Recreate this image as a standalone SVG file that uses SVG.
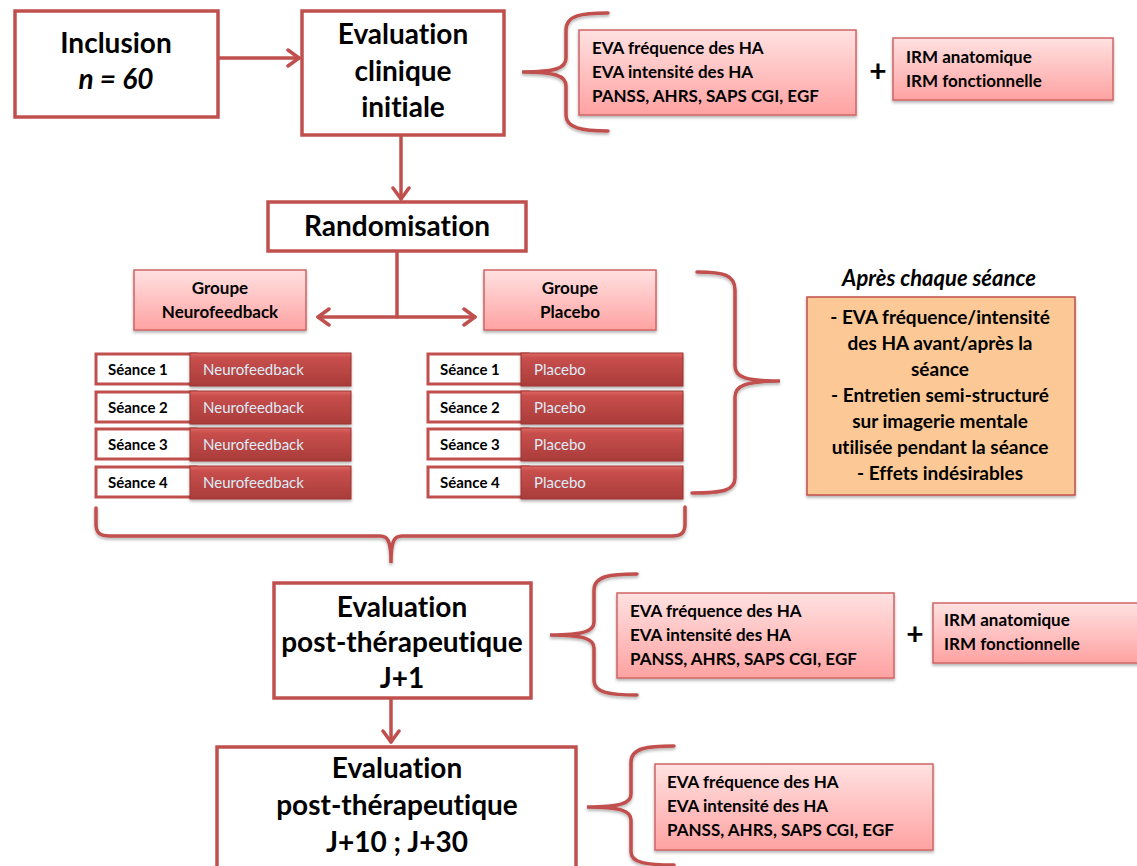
<svg xmlns="http://www.w3.org/2000/svg" width="1137" height="866" viewBox="0 0 1137 866">
<style>
text{font-variant-ligatures:none;font-feature-settings:"liga" 0}
.main{fill:#fff;stroke:#c0504d;stroke-width:3.5}
.pink{fill:url(#gPink);stroke:#d06464;stroke-width:1.5;filter:url(#sh)}
.orange{fill:#fcc895;stroke:#c0504d;stroke-width:1.5;filter:url(#sh)}
.sw{fill:#fff;stroke:#c0504d;stroke-width:3}
.sr{fill:url(#gRed);stroke:#9c3432;stroke-width:1;filter:url(#sh)}
.t{font-family:Lato,"Liberation Sans",sans-serif;font-weight:bold;fill:#000}
.big{font-size:28px;text-anchor:middle}
.mid{font-size:17px;text-anchor:middle}
.sm{font-size:17px}
.ses{font-size:15px}
.lab{font-family:Lato,"Liberation Sans",sans-serif;font-size:15px;fill:#dcecf8}
.line{fill:none;stroke:#c0504d;stroke-width:3.5;stroke-linecap:round;stroke-linejoin:round}
.brace{fill:none;stroke:#c0504d;stroke-width:3.5;stroke-linecap:round;filter:url(#sh)}
</style>
<defs>
<linearGradient id="gPink" x1="0" y1="0" x2="0" y2="1"><stop offset="0" stop-color="#ffe1e1"/><stop offset="1" stop-color="#ffa2a2"/></linearGradient>
<linearGradient id="gRed" x1="0" y1="0" x2="0" y2="1"><stop offset="0" stop-color="#e06966"/><stop offset="0.15" stop-color="#c84f4c"/><stop offset="1" stop-color="#a93c3a"/></linearGradient>
<filter id="sh" x="-10%" y="-10%" width="120%" height="130%"><feDropShadow dx="0" dy="2" stdDeviation="1.5" flood-color="#000" flood-opacity="0.3"/></filter>
<marker id="ah" markerUnits="userSpaceOnUse" viewBox="-14 -11 16 22" refX="0" refY="0" markerWidth="16" markerHeight="22" orient="auto-start-reverse">
<path d="M-11,-8 L0,0 L-11,8" fill="none" stroke="#c0504d" stroke-width="3.5" stroke-linecap="round" stroke-linejoin="round"/>
</marker>
</defs>

<g id="connectors">
<line class="line" x1="218" y1="58" x2="299" y2="58" marker-end="url(#ah)"/>
<line class="line" x1="401" y1="135" x2="401" y2="199" marker-end="url(#ah)"/>
<line class="line" x1="397" y1="251" x2="397" y2="317"/>
<line class="line" x1="318" y1="317" x2="475" y2="317" marker-start="url(#ah)" marker-end="url(#ah)"/>
<line class="line" x1="391" y1="698" x2="391" y2="742" marker-end="url(#ah)"/>
<path class="brace" d="M608 13 C582 13 566 15 566 30 L566 58 C566 68 556 72 522 72 C556 72 566 76 566 86 L566 115 C566 128 582 131 608 131"/>
<path class="brace" d="M697 272 C724 272 735 275 735 290 L735 366 C735 377 745 381 780 381 C745 381 735 386 735 397 L735 478 C735 490 724 493 692 493"/>
<path class="brace" d="M96 508 L96 524 C96 533 100 536 110 536 L380 536 C388 536 391 541 391 563 C391 541 394 536 402 536 L672 536 C681 536 685 533 685 524 L685 507"/>
<path class="brace" d="M637 574 C610 574 594 576 594 590 L594 622 C594 631 584 635 550 635 C584 635 594 639 594 648 L594 680 C594 693 610 695 637 695"/>
<path class="brace" d="M674 746 C647 746 631 748 631 762 L631 794 C631 803 621 807 587 807 C621 807 631 811 631 820 L631 852 C631 863 647 865 674 865"/>
</g>

<g id="inclusion">
<rect class="main" x="15" y="11" width="203" height="106"/>
<text class="t big" x="116" y="53">Inclusion</text>
<text class="t big" x="116" y="89" font-style="italic">n = 60</text>
</g>

<g id="eval-initiale">
<rect class="main" x="302" y="11" width="202" height="124"/>
<text class="t big" x="403" y="44">Evaluation</text>
<text class="t big" x="403" y="81">clinique</text>
<text class="t big" x="403" y="117">initiale</text>
</g>

<g id="mesures-initiales">
<rect class="pink" x="579" y="30" width="277" height="85"/>
<text class="t sm" x="592" y="54">EVA fréquence des HA</text>
<text class="t sm" x="592" y="78">EVA intensité des HA</text>
<text class="t sm" x="592" y="102">PANSS, AHRS, SAPS CGI, EGF</text>
</g>
<text class="t" x="878" y="82" font-size="30" text-anchor="middle">+</text>
<g id="irm-initiale">
<rect class="pink" x="893" y="38" width="220" height="62"/>
<text class="t sm" x="906" y="63">IRM anatomique</text>
<text class="t sm" x="906" y="87">IRM fonctionnelle</text>
</g>

<g id="randomisation">
<rect class="main" x="268" y="202" width="258" height="49"/>
<text class="t big" x="397" y="236">Randomisation</text>
</g>

<g id="groupe-neurofeedback">
<rect class="pink" x="134" y="270" width="172" height="60"/>
<text class="t mid" x="220" y="294">Groupe</text>
<text class="t mid" x="220" y="318">Neurofeedback</text>
</g>
<g id="groupe-placebo">
<rect class="pink" x="484" y="270" width="172" height="60"/>
<text class="t mid" x="570" y="294">Groupe</text>
<text class="t mid" x="570" y="318">Placebo</text>
</g>

<g id="seances-neurofeedback">
<rect class="sw" x="96" y="354" width="100" height="30"/><rect class="sr" x="190" y="353" width="161" height="33"/>
<text class="t ses" x="108" y="375">Séance 1</text><text class="lab" x="203" y="375">Neurofeedback</text>
<rect class="sw" x="96" y="392" width="100" height="30"/><rect class="sr" x="190" y="391" width="161" height="33"/>
<text class="t ses" x="108" y="413">Séance 2</text><text class="lab" x="203" y="413">Neurofeedback</text>
<rect class="sw" x="96" y="429" width="100" height="30"/><rect class="sr" x="190" y="428" width="161" height="33"/>
<text class="t ses" x="108" y="450">Séance 3</text><text class="lab" x="203" y="450">Neurofeedback</text>
<rect class="sw" x="96" y="467" width="100" height="30"/><rect class="sr" x="190" y="466" width="161" height="33"/>
<text class="t ses" x="108" y="488">Séance 4</text><text class="lab" x="203" y="488">Neurofeedback</text>
</g>

<g id="seances-placebo">
<rect class="sw" x="428" y="354" width="100" height="30"/><rect class="sr" x="521" y="353" width="162" height="33"/>
<text class="t ses" x="440" y="375">Séance 1</text><text class="lab" x="534" y="375">Placebo</text>
<rect class="sw" x="428" y="392" width="100" height="30"/><rect class="sr" x="521" y="391" width="162" height="33"/>
<text class="t ses" x="440" y="413">Séance 2</text><text class="lab" x="534" y="413">Placebo</text>
<rect class="sw" x="428" y="429" width="100" height="30"/><rect class="sr" x="521" y="428" width="162" height="33"/>
<text class="t ses" x="440" y="450">Séance 3</text><text class="lab" x="534" y="450">Placebo</text>
<rect class="sw" x="428" y="467" width="100" height="30"/><rect class="sr" x="521" y="466" width="162" height="33"/>
<text class="t ses" x="440" y="488">Séance 4</text><text class="lab" x="534" y="488">Placebo</text>
</g>

<g id="apres-seance">
<text class="t" x="939" y="286" font-size="22" font-style="italic" text-anchor="middle">Après chaque séance</text>
<rect class="orange" x="807" y="297" width="268" height="198"/>
<g class="t" font-size="19" text-anchor="middle">
<text x="940" y="324">- EVA fréquence/intensité</text>
<text x="940" y="350">des HA avant/après la</text>
<text x="940" y="376">séance</text>
<text x="940" y="402">- Entretien semi-structuré</text>
<text x="940" y="428">sur imagerie mentale</text>
<text x="940" y="454">utilisée pendant la séance</text>
<text x="940" y="480">- Effets indésirables</text>
</g>
</g>

<g id="eval-j1">
<rect class="main" x="274" y="583" width="257" height="115"/>
<text class="t big" x="402" y="617">Evaluation</text>
<text class="t big" x="402" y="652">post-thérapeutique</text>
<text class="t big" x="402" y="688">J+1</text>
</g>
<g id="mesures-j1">
<rect class="pink" x="617" y="593" width="277" height="85"/>
<text class="t sm" x="630" y="617">EVA fréquence des HA</text>
<text class="t sm" x="630" y="641">EVA intensité des HA</text>
<text class="t sm" x="630" y="665">PANSS, AHRS, SAPS CGI, EGF</text>
</g>
<text class="t" x="915" y="645" font-size="30" text-anchor="middle">+</text>
<g id="irm-j1">
<rect class="pink" x="933" y="603" width="210" height="60"/>
<text class="t sm" x="944" y="626">IRM anatomique</text>
<text class="t sm" x="944" y="650">IRM fonctionnelle</text>
</g>

<g id="eval-j10">
<rect class="main" x="217" y="747" width="359" height="130"/>
<text class="t big" x="397" y="778">Evaluation</text>
<text class="t big" x="397" y="815">post-thérapeutique</text>
<text class="t big" x="397" y="852">J+10 ; J+30</text>
</g>
<g id="mesures-j10">
<rect class="pink" x="655" y="764" width="278" height="86"/>
<text class="t sm" x="667" y="788">EVA fréquence des HA</text>
<text class="t sm" x="667" y="812">EVA intensité des HA</text>
<text class="t sm" x="667" y="836">PANSS, AHRS, SAPS CGI, EGF</text>
</g>
</svg>
